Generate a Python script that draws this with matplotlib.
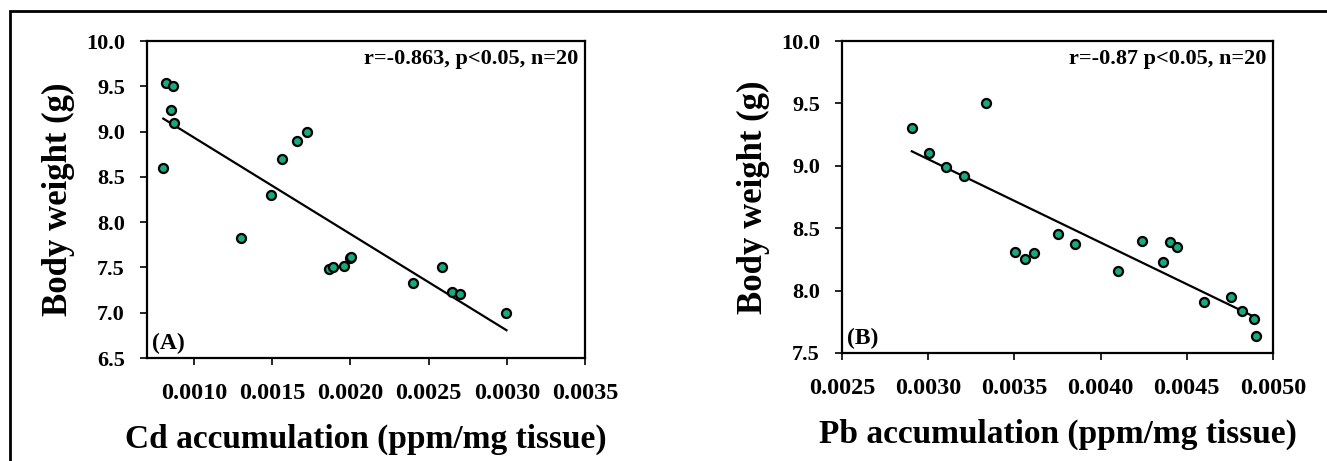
import matplotlib.pyplot as plt
import numpy as np
from matplotlib.patches import Rectangle

# Panel A: Cd accumulation vs body weight
cd_x = [0.000804, 0.000823, 0.000864, 0.000855, 0.000870, 0.001304, 0.001494,
        0.001564, 0.001662, 0.001726, 0.001862, 0.001891, 0.001962, 0.001996,
        0.002002, 0.002400, 0.002589, 0.002649, 0.002700, 0.002998]
cd_y = [8.60, 9.54, 9.50, 9.24, 9.10, 7.82, 8.30, 8.70, 8.90, 9.00,
        7.48, 7.51, 7.52, 7.60, 7.62, 7.33, 7.50, 7.23, 7.21, 7.00]

# Panel B: Pb accumulation vs body weight
pb_x = [0.002905, 0.003006, 0.003105, 0.003205, 0.003335, 0.003504, 0.003564,
        0.003612, 0.003752, 0.003853, 0.004103, 0.004242, 0.004362, 0.004401,
        0.004444, 0.004601, 0.004754, 0.004822, 0.004890, 0.004903]
pb_y = [9.30, 9.10, 8.99, 8.92, 9.50, 8.31, 8.25, 8.30, 8.45, 8.37,
        8.16, 8.40, 8.23, 8.39, 8.35, 7.91, 7.95, 7.84, 7.77, 7.64]

cd_ticks = [0.0010, 0.0015, 0.0020, 0.0025, 0.0030, 0.0035]
pb_ticks = [0.0025, 0.0030, 0.0035, 0.0040, 0.0045, 0.0050]
cd_yticks = [6.5, 7.0, 7.5, 8.0, 8.5, 9.0, 9.5, 10.0]
pb_yticks = [7.5, 8.0, 8.5, 9.0, 9.5, 10.0]

plt.rcParams['font.family'] = 'Liberation Serif'
plt.rcParams['font.weight'] = 'bold'

fig = plt.figure(figsize=(13.27, 4.61), dpi=100)

# outer frame of the original figure (only left and top visible)
fig.add_artist(Rectangle((10 / 1327, -0.1), 1.2, 1 - 11 / 461 + 0.1,
                         transform=fig.transFigure, fill=False,
                         edgecolor='black', linewidth=2))

panels = [
    dict(rect=[147 / 1327, 1 - 358 / 461, 438 / 1327, 317 / 461],
         x=cd_x, y=cd_y, xlim=(0.0007, 0.0035), ylim=(6.5, 10.0),
         xticks=cd_ticks, yticks=cd_yticks,
         xlabel='Cd accumulation (ppm/mg tissue)',
         note='r=-0.863, p<0.05, n=20', tag='(A)'),
    dict(rect=[842 / 1327, 1 - 353 / 461, 431 / 1327, 312 / 461],
         x=pb_x, y=pb_y, xlim=(0.0025, 0.0050), ylim=(7.5, 10.0),
         xticks=pb_ticks, yticks=pb_yticks,
         xlabel='Pb accumulation (ppm/mg tissue)',
         note='r=-0.87 p<0.05, n=20', tag='(B)'),
]

for p in panels:
    ax = fig.add_axes(p['rect'])
    x = np.array(p['x'])
    y = np.array(p['y'])
    k, b = np.polyfit(x, y, 1)
    xx = np.array([x.min(), x.max()])
    ax.plot(xx, k * xx + b, color='black', linewidth=1.6, zorder=2)
    ax.plot(x, y, 'o', markersize=6.5, markerfacecolor='#17aa80',
            markeredgecolor='black', markeredgewidth=1.6, zorder=3)
    ax.set_xlim(*p['xlim'])
    ax.set_ylim(*p['ylim'])
    ax.set_xticks(p['xticks'])
    ax.set_yticks(p['yticks'])
    ax.set_xticklabels(['%.4f' % t for t in p['xticks']])
    ax.set_yticklabels(['%.1f' % t for t in p['yticks']])
    ax.tick_params(axis='x', length=5, width=1.2, pad=13, labelsize=17.5)
    ax.tick_params(axis='y', length=5, width=1.2, pad=11, labelsize=16)
    for s in ax.spines.values():
        s.set_linewidth(1.6)
    ax.set_xlabel(p['xlabel'], fontsize=24, fontweight='bold', labelpad=14)
    ax.set_ylabel('Body weight (g)', fontsize=25, fontweight='bold', labelpad=8)
    ax.text(0.985, 0.975, p['note'], transform=ax.transAxes, ha='right',
            va='top', fontsize=16, fontweight='bold')
    ax.text(0.012, 0.012, p['tag'], transform=ax.transAxes, ha='left',
            va='bottom', fontsize=17, fontweight='bold')

fig.savefig('out.png', dpi=100)
